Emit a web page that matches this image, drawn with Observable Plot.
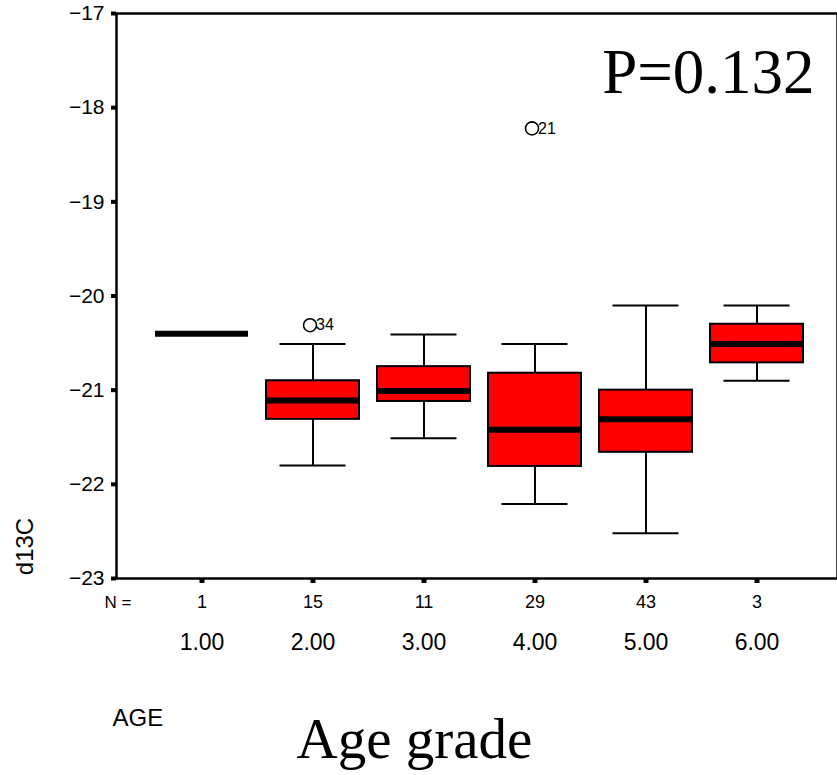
<!DOCTYPE html>
<html>
<head>
<meta charset="utf-8">
<script src="https://cdn.jsdelivr.net/npm/d3@7"></script>
<script src="https://cdn.jsdelivr.net/npm/@observablehq/plot@0.6"></script>
<style>
  html, body { margin: 0; padding: 0; background: #fff; overflow: hidden; }
  #chart svg { overflow: hidden !important; max-width: none !important; display: block; }
</style>
</head>
<body>
<div id="chart"></div>
<script>
// ---- data ----
const ageGroups = ["1.00", "2.00", "3.00", "4.00", "5.00", "6.00"];
const groupN = [1, 15, 11, 29, 43, 3];
const whiskerHigh = [null, -20.51, -20.41, -20.51, -20.10, -20.10];
const q3 = [null, -20.90, -20.75, -20.82, -21.00, -20.30];
const medians = [-20.40, -21.11, -21.01, -21.42, -21.31, -20.51];
const q1 = [null, -21.31, -21.12, -21.81, -21.66, -20.71];
const whiskerLow = [null, -21.80, -21.51, -22.21, -22.52, -20.90];
const outlierGroups = ["2.00", "4.00"];
const outlierValues = [-20.31, -18.22];
const outlierLabels = ["34", "21"];
const yTicks = [-17, -18, -19, -20, -21, -22, -23];
const pText = "P=0.132";
const yTitle = "d13C";
const xVarName = "AGE";
const xTitle = "Age grade";
const nPrefix = "N =";

const boxes = ageGroups.map((g, i) => ({
  group: g, n: groupN[i], hi: whiskerHigh[i], q3: q3[i], med: medians[i], q1: q1[i], lo: whiskerLow[i]
})).filter(d => d.q1 != null);
const meds = ageGroups.map((g, i) => ({group: g, med: medians[i]}));
const outliers = outlierGroups.map((g, i) => ({group: g, value: outlierValues[i], label: outlierLabels[i]}));

const sans = "'Liberation Sans', Arial, sans-serif";
const serif = "'Liberation Serif', 'Times New Roman', serif";
const fmtInt = d => String(d).replace("-", "\u2212");

const chart = Plot.plot({
  width: 837,
  height: 775,
  marginTop: 13,
  marginBottom: 197,
  marginLeft: 116,
  marginRight: 0,
  style: {background: "#fff", color: "#000", fontFamily: sans},
  x: {type: "band", domain: ageGroups, range: [116, 841], paddingInner: 0.166, paddingOuter: 0.334},
  y: {domain: [-23, -17]},
  marks: [
    // whiskers
    Plot.ruleX(boxes, {x: "group", y1: "lo", y2: "hi", stroke: "#000", strokeWidth: 2}),
    Plot.tickY(boxes, {x: "group", y: "hi", stroke: "#000", strokeWidth: 2, insetLeft: 13.5, insetRight: 13.5}),
    Plot.tickY(boxes, {x: "group", y: "lo", stroke: "#000", strokeWidth: 2, insetLeft: 13.5, insetRight: 13.5}),
    // boxes
    Plot.barY(boxes, {x: "group", y1: "q1", y2: "q3", fill: "#ff0000", stroke: "#000", strokeWidth: 2}),
    // medians
    Plot.tickY(meds, {x: "group", y: "med", stroke: "#000", strokeWidth: 6}),
    // outliers
    Plot.dot(outliers, {x: "group", y: "value", r: 6.5, dx: -3, stroke: "#000", strokeWidth: 1.6, fill: "none"}),
    Plot.text(outliers, {x: "group", y: "value", text: "label", dx: 3, textAnchor: "start", lineAnchor: "middle", fontSize: 16, fill: "#000"}),
    // frame
    Plot.frame({stroke: "#000", strokeWidth: 2.5}),
    // y axis
    Plot.axisY({ticks: yTicks, tickFormat: fmtInt, tickSize: 5, strokeWidth: 4, tickPadding: 7, fontSize: 21, label: null}),
    // N row
    Plot.axisX({ticks: ageGroups, tickFormat: d => String(groupN[ageGroups.indexOf(d)]), tickSize: 5, strokeWidth: 5, tickPadding: 12, fontSize: 18, label: null}),
    // category labels
    Plot.axisX({ticks: ageGroups, tickSize: 0, tickPadding: 55, fontSize: 23, label: null}),
    Plot.text([nPrefix], {frameAnchor: "bottom-left", dx: -12, dy: 24, textAnchor: "start", lineAnchor: "middle", fontSize: 17, fill: "#000"}),
    // P value
    Plot.text([pText], {frameAnchor: "top-right", dx: -23, dy: 59, textAnchor: "end", lineAnchor: "middle", fontSize: 63, fontFamily: serif, fill: "#000"}),
    // y title
    Plot.text([yTitle], {frameAnchor: "bottom-left", dx: -91, dy: -32, rotate: -90, textAnchor: "middle", lineAnchor: "middle", fontSize: 24, fill: "#000"}),
    // AGE
    Plot.text([xVarName], {frameAnchor: "bottom-left", dx: -4, dy: 140, textAnchor: "start", lineAnchor: "middle", fontSize: 24, fill: "#000"}),
    // Age grade
    Plot.text([xTitle], {frameAnchor: "bottom-left", dx: 298, dy: 161, textAnchor: "middle", lineAnchor: "middle", fontSize: 57, fontFamily: serif, fill: "#000"})
  ]
});
document.getElementById("chart").appendChild(chart);
</script>
</body>
</html>
